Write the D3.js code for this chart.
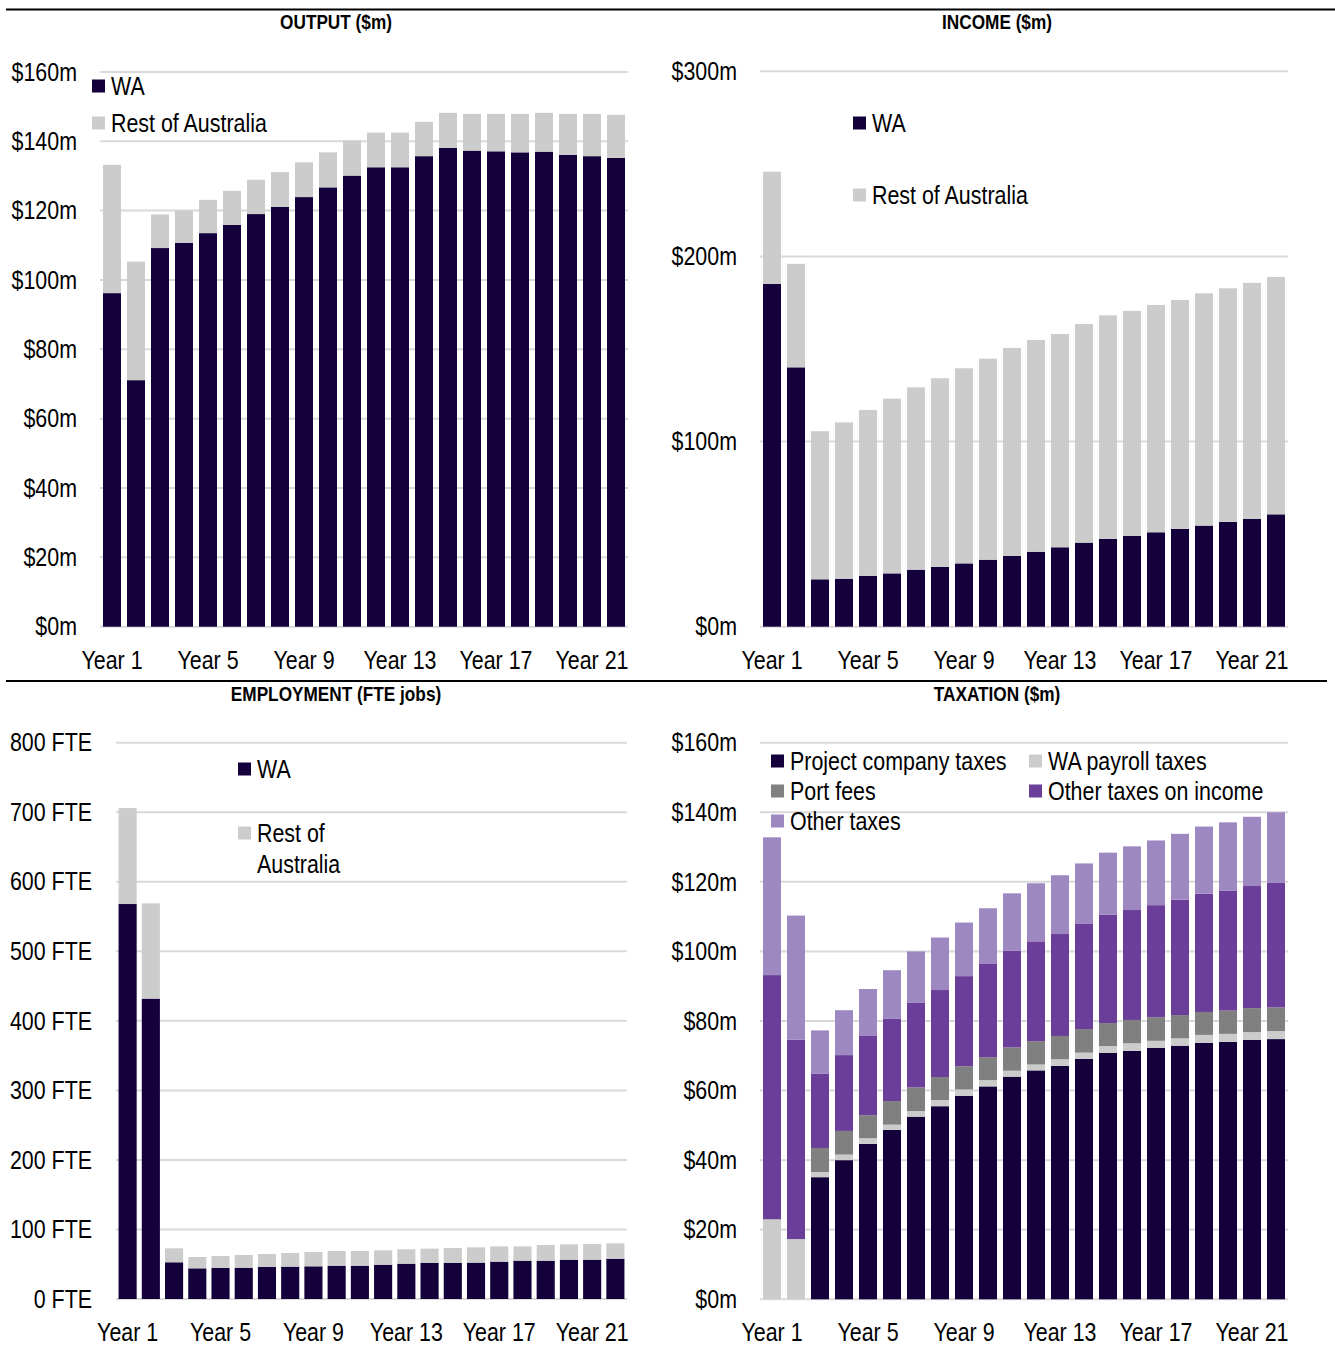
<!DOCTYPE html>
<html>
<head>
<meta charset="utf-8">
<script src="https://cdn.jsdelivr.net/npm/d3@7/dist/d3.min.js"></script>
<style>
  html, body { margin: 0; padding: 0; background: #fff; }
  svg { display: block; font-family: "Liberation Sans", Arial, sans-serif; }
  .tick text { fill: #000; }
</style>
</head>
<body>
<svg id="chart" width="1335" height="1347"></svg>
<script>
// ---- data ----
const years = d3.range(1, 23).map(i => "Year " + i);
const yearTicks = ["Year 1", "Year 5", "Year 9", "Year 13", "Year 17", "Year 21"];

// Output ($m)
const outputWA   = [96.2, 71.1, 109.2, 110.7, 113.5, 115.9, 119.0, 121.1, 123.9, 126.7, 130.1, 132.5, 132.5, 135.7, 138.1, 137.3, 137.1, 136.8, 137.0, 136.1, 135.7, 135.2];
const outputRest = [37.0, 34.2, 9.7, 9.3, 9.6, 9.8, 9.9, 10.0, 10.0, 10.1, 10.1, 10.0, 10.0, 9.9, 10.1, 10.6, 10.8, 11.1, 11.2, 11.8, 12.2, 12.4];
const outputTicks = [0, 20, 40, 60, 80, 100, 120, 140, 160];

// Income ($m)
const incomeWA   = [185.1, 140.1, 25.6, 25.9, 27.4, 28.8, 30.8, 32.3, 34.2, 36.2, 38.2, 40.5, 42.9, 45.4, 47.4, 49.0, 51.0, 52.8, 54.6, 56.6, 58.3, 60.7];
const incomeRest = [60.7, 55.9, 80.0, 84.5, 89.7, 94.4, 98.5, 101.9, 105.4, 108.6, 112.4, 114.4, 115.2, 118.1, 120.8, 121.6, 122.8, 123.7, 125.5, 126.2, 127.4, 128.2];
const incomeTicks = [0, 100, 200, 300];

// Employment (FTE jobs)
const jobsWA   = [568, 432, 52.8, 44.1, 44.6, 45.0, 46.0, 46.5, 47.0, 47.9, 47.9, 49.3, 50.8, 51.8, 51.8, 52.3, 53.7, 55.1, 55.1, 56.5, 56.5, 57.9];
const jobsRest = [138, 137, 20.1, 16.3, 17.2, 18.3, 18.7, 19.6, 20.6, 21.1, 21.1, 20.7, 20.7, 20.6, 21.5, 22.0, 22.0, 20.6, 22.5, 22.1, 22.6, 22.2];
const jobsTicks = [0, 100, 200, 300, 400, 500, 600, 700, 800];

// Taxation ($m)
const taxProject = [0, 0, 35.1, 40.0, 44.7, 48.7, 52.5, 55.5, 58.5, 61.2, 64.0, 65.8, 67.1, 69.1, 70.8, 71.4, 72.3, 72.9, 73.7, 74.0, 74.6, 74.8];
const taxPayroll = [23.0, 17.3, 1.5, 1.6, 1.6, 1.5, 1.6, 1.8, 1.8, 1.8, 1.7, 1.7, 1.9, 1.8, 2.0, 2.2, 2.0, 2.1, 2.3, 2.3, 2.2, 2.3];
const taxPort    = [0, 0, 6.9, 6.8, 6.6, 6.8, 6.8, 6.6, 6.7, 6.6, 6.7, 6.7, 6.7, 6.8, 6.6, 6.7, 6.8, 6.7, 6.6, 6.7, 6.9, 6.8];
const taxIncome  = [70.2, 57.3, 21.3, 21.8, 22.8, 23.6, 24.3, 25.0, 25.9, 26.8, 27.8, 28.7, 29.3, 30.2, 31.2, 31.6, 32.2, 33.2, 34.0, 34.4, 35.1, 35.8];
const taxOther   = [39.6, 35.7, 12.5, 12.9, 13.5, 14.0, 14.8, 15.1, 15.4, 16.0, 16.5, 16.7, 16.9, 17.4, 17.8, 18.3, 18.6, 18.9, 19.3, 19.7, 19.9, 20.3];
const taxTicks = [0, 20, 40, 60, 80, 100, 120, 140, 160];

// ---- styling ----
const C = {
  dark: "#14003a",
  light: "#cccccc",
  port: "#808080",
  oti: "#6b3f99",
  other: "#9e88c1",
  grid: "#d9d9d9"
};
const FONT = 25.5;          // label size
const TITLE_FONT = 20.5;    // panel heading size
const SQUEEZE = "scale(0.84,1)"; // condensed lettering

const svg = d3.select("#chart");

// panel divider rules
svg.append("line").attr("x1", 6).attr("x2", 1335).attr("y1", 9.5).attr("y2", 9.5)
  .attr("stroke", "#000").attr("stroke-width", 2);
svg.append("line").attr("x1", 6).attr("x2", 1327).attr("y1", 681).attr("y2", 681)
  .attr("stroke", "#000").attr("stroke-width", 2);

function panel(cfg) {
  const g = svg.append("g");
  const x = d3.scaleBand().domain(years).range([cfg.x0, cfg.x1])
    .paddingInner(cfg.padIn).paddingOuter(cfg.padOut);
  const y = d3.scaleLinear().domain([0, cfg.max]).range([cfg.yBottom, cfg.yTop]);

  // title
  g.append("g").attr("transform", `translate(${cfg.titleX},${cfg.titleY})`)
    .append("text").attr("transform", SQUEEZE)
    .attr("text-anchor", "middle").attr("font-weight", "bold")
    .attr("font-size", TITLE_FONT).text(cfg.title);

  // gridlines
  g.append("g").selectAll("line").data(cfg.ticks).join("line")
    .attr("x1", cfg.x0).attr("x2", cfg.x1)
    .attr("y1", d => y(d)).attr("y2", d => y(d))
    .attr("stroke", C.grid).attr("stroke-width", 2);

  // y axis labels
  const ya = g.append("g").attr("transform", `translate(${cfg.labelRight},0)`)
    .call(d3.axisLeft(y).tickValues(cfg.ticks).tickFormat(cfg.fmt).tickSize(0).tickPadding(0));
  ya.select(".domain").remove();
  ya.selectAll("text").attr("font-size", FONT)
    .attr("font-family", "Liberation Sans, Arial, sans-serif")
    .attr("transform", SQUEEZE);

  // stacked bars
  const rows = years.map((yr, i) => {
    const r = { year: yr };
    cfg.series.forEach(s => r[s.key] = s.values[i]);
    return r;
  });
  const stack = d3.stack().keys(cfg.series.map(s => s.key))(rows);
  const colorOf = Object.fromEntries(cfg.series.map(s => [s.key, s.color]));
  g.append("g").selectAll("g").data(stack).join("g")
    .attr("fill", d => colorOf[d.key])
    .selectAll("rect").data(d => d).join("rect")
    .attr("x", d => x(d.data.year))
    .attr("width", x.bandwidth())
    .attr("y", d => y(d[1]))
    .attr("height", d => Math.max(0, y(d[0]) - y(d[1])));

  // x axis labels
  const xa = g.append("g").attr("transform", `translate(0,${cfg.xLabelY})`)
    .call(d3.axisBottom(x).tickValues(yearTicks).tickSize(0).tickPadding(0));
  xa.select(".domain").remove();
  xa.selectAll("text").attr("font-size", FONT).attr("dy", 0)
    .attr("font-family", "Liberation Sans, Arial, sans-serif")
    .attr("transform", SQUEEZE);

  // legend
  const lg = g.append("g");
  cfg.legend.forEach(item => {
    lg.append("rect").attr("x", item.x).attr("y", item.y - 6.5)
      .attr("width", 13).attr("height", 13).attr("fill", colorOf[item.key]);
    const t = lg.append("g").attr("transform", `translate(${item.x + 19},${item.y})`)
      .append("text").attr("transform", SQUEEZE)
      .attr("font-size", FONT).attr("dominant-baseline", "central");
    item.label.split("\n").forEach((ln, k) => t.append("tspan").attr("x", 0)
      .attr("dy", k === 0 ? 0 : 31).text(ln));
  });
}

const money = d => "$" + d + "m";
const fte = d => d + " FTE";

panel({
  title: "OUTPUT ($m)", titleX: 336, titleY: 29,
  x0: 100, x1: 628, padIn: 0.25, padOut: 0.125,
  yTop: 71.9, yBottom: 626.7, max: 160, ticks: outputTicks, fmt: money,
  labelRight: 77, xLabelY: 669,
  series: [
    { key: "WA", values: outputWA, color: C.dark },
    { key: "Rest of Australia", values: outputRest, color: C.light }
  ],
  legend: [
    { key: "WA", label: "WA", x: 92, y: 86 },
    { key: "Rest of Australia", label: "Rest of Australia", x: 92, y: 123 }
  ]
});

panel({
  title: "INCOME ($m)", titleX: 997, titleY: 29,
  x0: 760, x1: 1288, padIn: 0.25, padOut: 0.125,
  yTop: 71.3, yBottom: 626.7, max: 300, ticks: incomeTicks, fmt: money,
  labelRight: 737, xLabelY: 669,
  series: [
    { key: "WA", values: incomeWA, color: C.dark },
    { key: "Rest of Australia", values: incomeRest, color: C.light }
  ],
  legend: [
    { key: "WA", label: "WA", x: 853, y: 123 },
    { key: "Rest of Australia", label: "Rest of Australia", x: 853, y: 195 }
  ]
});

panel({
  title: "EMPLOYMENT (FTE jobs)", titleX: 336, titleY: 701,
  x0: 116, x1: 627, padIn: 0.22, padOut: 0.11,
  yTop: 742.7, yBottom: 1299, max: 800, ticks: jobsTicks, fmt: fte,
  labelRight: 92, xLabelY: 1341,
  series: [
    { key: "WA", values: jobsWA, color: C.dark },
    { key: "Rest of Australia", values: jobsRest, color: C.light }
  ],
  legend: [
    { key: "WA", label: "WA", x: 238, y: 769 },
    { key: "Rest of Australia", label: "Rest of\nAustralia", x: 238, y: 833 }
  ]
});

panel({
  title: "TAXATION ($m)", titleX: 997, titleY: 701,
  x0: 760, x1: 1288, padIn: 0.25, padOut: 0.125,
  yTop: 742.7, yBottom: 1299.3, max: 160, ticks: taxTicks, fmt: money,
  labelRight: 737, xLabelY: 1341,
  series: [
    { key: "Project company taxes", values: taxProject, color: C.dark },
    { key: "WA payroll taxes", values: taxPayroll, color: C.light },
    { key: "Port fees", values: taxPort, color: C.port },
    { key: "Other taxes on income", values: taxIncome, color: C.oti },
    { key: "Other taxes", values: taxOther, color: C.other }
  ],
  legend: [
    { key: "Project company taxes", label: "Project company taxes", x: 771, y: 761 },
    { key: "WA payroll taxes", label: "WA payroll taxes", x: 1029, y: 761 },
    { key: "Port fees", label: "Port fees", x: 771, y: 791 },
    { key: "Other taxes on income", label: "Other taxes on income", x: 1029, y: 791 },
    { key: "Other taxes", label: "Other taxes", x: 771, y: 821 }
  ]
});
</script>
</body>
</html>
